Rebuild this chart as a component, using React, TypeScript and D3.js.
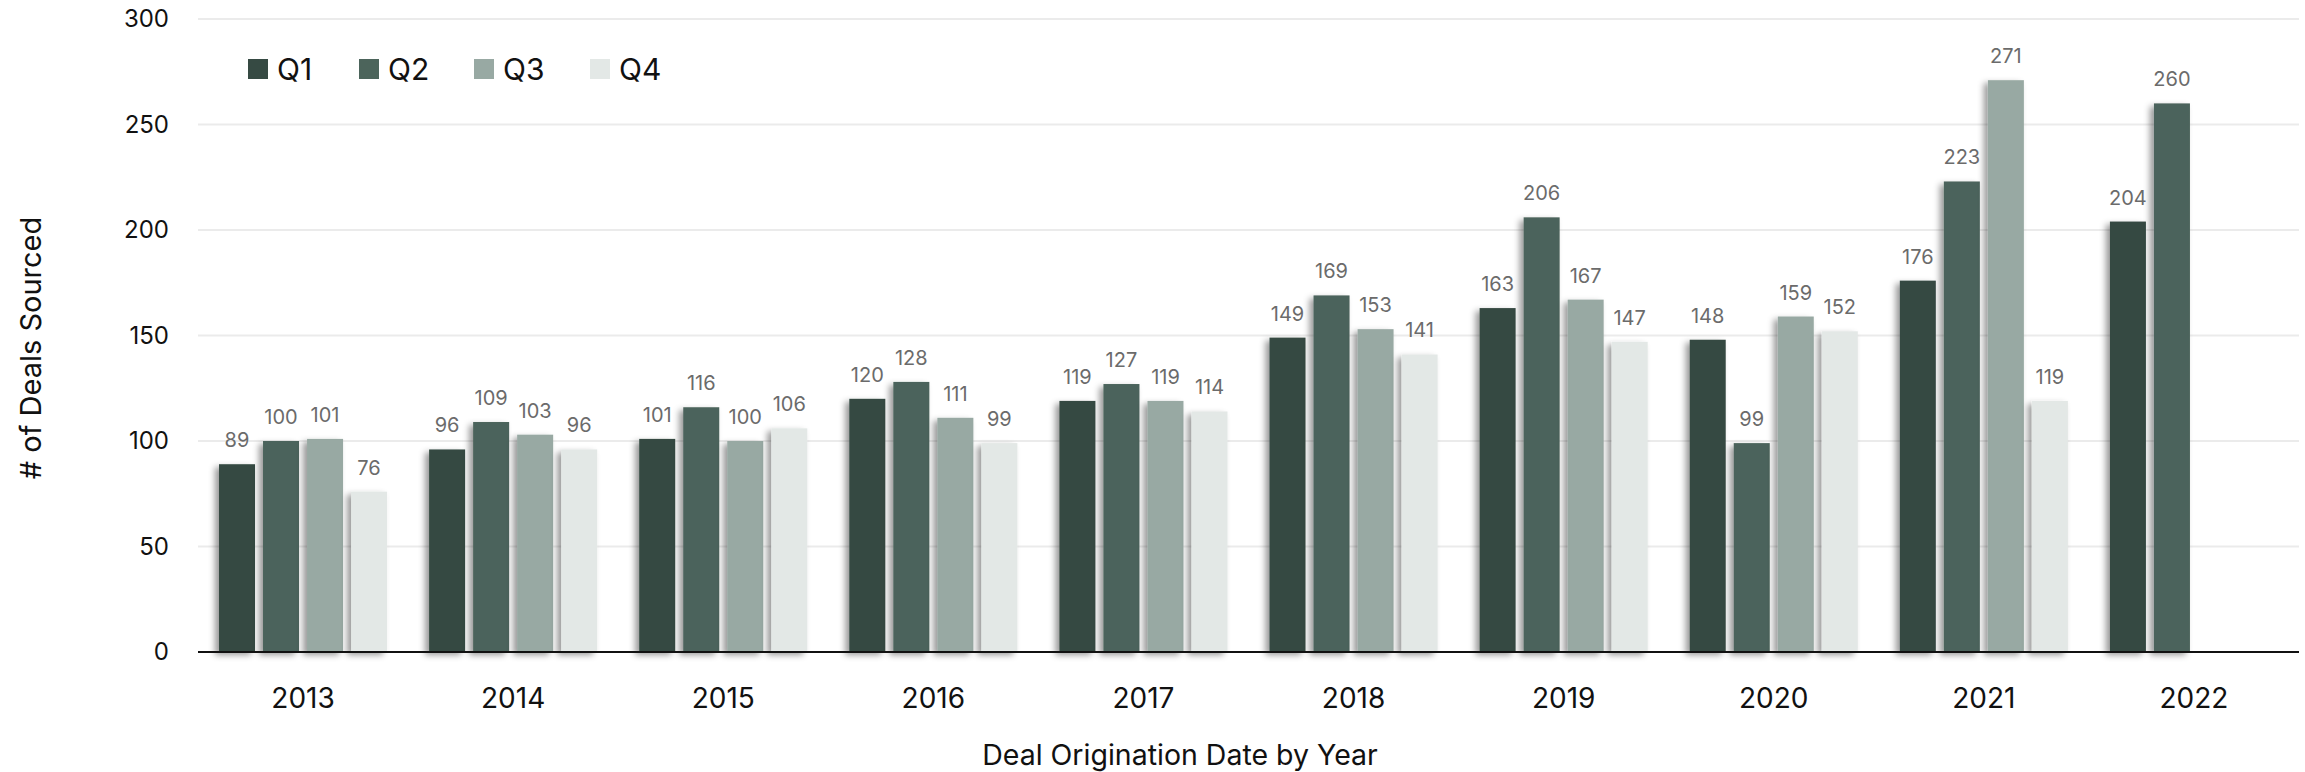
import React, { useEffect, useRef } from "react";
import * as d3 from "d3";

const years = ["2013", "2014", "2015", "2016", "2017", "2018", "2019", "2020", "2021", "2022"];
const quarters = ["Q1", "Q2", "Q3", "Q4"];
const q1 = [89, 96, 101, 120, 119, 149, 163, 148, 176, 204];
const q2 = [100, 109, 116, 128, 127, 169, 206, 99, 223, 260];
const q3 = [101, 103, 100, 111, 119, 153, 167, 159, 271, null];
const q4 = [76, 96, 106, 99, 114, 141, 147, 152, 119, null];
const yTicks = [0, 50, 100, 150, 200, 250, 300];
const colors = ["#364a43", "#4c645b", "#98a9a3", "#e3e8e6"];

const W = 2305;
const H = 772;
const FONT = "Inter, 'Noto Sans', sans-serif";

export default function App() {
  const ref = useRef<SVGSVGElement>(null);

  useEffect(() => {
    document.body.style.margin = "0";
    const svg = d3.select(ref.current);
    svg.selectAll("*").remove();

    const left = 198, right = 2299, top = 19, bottom = 652;
    const x = d3.scaleBand<string>().domain(years).range([left, right]).paddingInner(0.2).paddingOuter(0.1);
    const xq = d3.scaleBand<string>().domain(quarters).range([0, x.bandwidth()]).paddingInner(0.182);
    const y = d3.scaleLinear().domain([0, 300]).range([bottom, top]);

    const defs = svg.append("defs");
    const f = defs.append("filter").attr("id", "shadow").attr("x", "-50%").attr("y", "-10%").attr("width", "200%").attr("height", "120%");
    f.append("feDropShadow").attr("dx", -4).attr("dy", 3).attr("stdDeviation", 3).attr("flood-color", "#000").attr("flood-opacity", 0.4);

    // gridlines
    svg.append("g").selectAll("line").data(yTicks.filter((t) => t > 0)).join("line")
      .attr("x1", left).attr("x2", right)
      .attr("y1", (d) => y(d)).attr("y2", (d) => y(d))
      .attr("stroke", "#ebebeb").attr("stroke-width", 2);

    // y tick labels
    svg.append("g").selectAll("text").data(yTicks).join("text")
      .attr("x", 169).attr("y", (d) => y(d)).attr("dy", "0.35em")
      .attr("text-anchor", "end").attr("font-family", FONT).attr("font-size", 24).attr("fill", "#111")
      .text((d) => d);

    const series = [q1, q2, q3, q4];
    const rows: { year: string; q: string; v: number; i: number }[] = [];
    years.forEach((yr, yi) => {
      series.forEach((s, si) => {
        const v = s[yi];
        if (v != null) rows.push({ year: yr, q: quarters[si], v: v as number, i: si });
      });
    });

    svg.append("g").selectAll("rect").data(rows).join("rect")
      .attr("x", (d) => (x(d.year) as number) + (xq(d.q) as number))
      .attr("y", (d) => y(d.v))
      .attr("width", xq.bandwidth())
      .attr("height", (d) => bottom - y(d.v))
      .attr("fill", (d) => colors[d.i])
      .attr("filter", "url(#shadow)");

    svg.append("g").selectAll("text").data(rows).join("text")
      .attr("x", (d) => (x(d.year) as number) + (xq(d.q) as number) + xq.bandwidth() / 2)
      .attr("y", (d) => y(d.v) - 17)
      .attr("text-anchor", "middle").attr("font-family", FONT).attr("font-size", 20).attr("fill", "#6b6b6b")
      .text((d) => d.v);

    // baseline
    svg.append("line").attr("x1", left).attr("x2", right).attr("y1", bottom).attr("y2", bottom)
      .attr("stroke", "#111").attr("stroke-width", 2);

    // x tick labels
    svg.append("g").selectAll("text").data(years).join("text")
      .attr("x", (d) => (x(d) as number) + x.bandwidth() / 2).attr("y", 708)
      .attr("text-anchor", "middle").attr("font-family", FONT).attr("font-size", 28).attr("fill", "#111")
      .text((d) => d);

    // axis titles
    svg.append("text").attr("x", 1180).attr("y", 765).attr("text-anchor", "middle")
      .attr("font-family", FONT).attr("font-size", 28.5).attr("fill", "#111").text("Deal Origination Date by Year");
    svg.append("text").attr("transform", "translate(41,348) rotate(-90)").attr("text-anchor", "middle")
      .attr("font-family", FONT).attr("font-size", 29).attr("fill", "#111").text("# of Deals Sourced");

    // legend
    const legX = [248, 359, 474, 590];
    const leg = svg.append("g").selectAll("g").data(quarters).join("g")
      .attr("transform", (_d, i) => `translate(${legX[i]},59)`);
    leg.append("rect").attr("width", 20).attr("height", 20).attr("fill", (_d, i) => colors[i]);
    leg.append("text").attr("x", 29).attr("y", 10).attr("dy", "0.36em")
      .attr("font-family", FONT).attr("font-size", 30).attr("fill", "#111").text((d) => d);
  }, []);

  return <svg ref={ref} width={W} height={H} style={{ position: "absolute", left: 0, top: 0, background: "#fff" }} />;
}
